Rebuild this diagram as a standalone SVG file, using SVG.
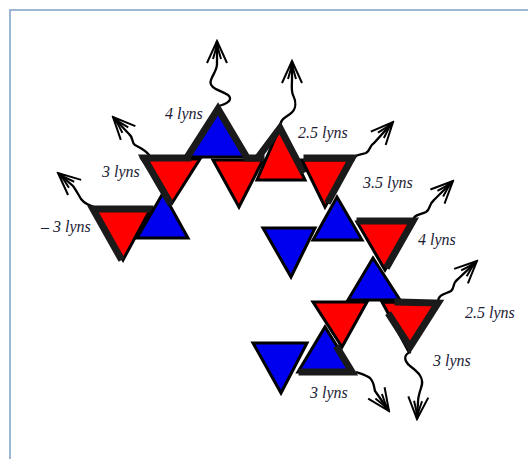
<svg xmlns="http://www.w3.org/2000/svg" width="528" height="459" viewBox="0 0 528 459">
<style>
.r{fill:#ff0000;stroke:#000;stroke-width:3;stroke-linejoin:miter}
.b{fill:#0000ee;stroke:#000;stroke-width:3;stroke-linejoin:miter}
.k{stroke:#1a1a1a;stroke-width:7;stroke-linecap:square;fill:none}
.w{fill:none;stroke:#000;stroke-width:2.3}
.t{font-family:"Liberation Serif","DejaVu Serif",serif;font-style:italic;font-size:16px;fill:#1c1c35}
</style>
<defs>
<marker id="ah" viewBox="0 0 26 24" refX="24" refY="12" markerWidth="26" markerHeight="24" markerUnits="userSpaceOnUse" orient="auto">
<path d="M2,2 L24,12 L2,22 M6,8 L20,12 L6,16" fill="none" stroke="#000" stroke-width="2"/>
</marker>
</defs>
<rect x="10" y="10" width="530" height="460" fill="#fff" stroke="#9bb7d4" stroke-width="2"/>
<g id="connectors">
<path class="w" marker-end="url(#ah)" d="M97,208 C90,206 84,203 81,199 C78,194 76,190 73,186 L58,173"/>
<path class="w" marker-end="url(#ah)" d="M151,158 C149,152 141,148 135,145 C131,142 134,138 129,134 L113,117"/>
<path class="w" marker-end="url(#ah)" d="M219,106 C226,104 234,100 228,95 C220,90 208,88 211,80 C213,74 217,70 217,64 L217,41"/>
<path class="w" marker-end="url(#ah)" d="M281,127 C279,121 284,118 290,114 C297,109 296,101 293,95 C291,90 292,84 292,80 L292,61"/>
<path class="w" marker-end="url(#ah)" d="M353,161 C354,154 361,155 366,153 C371,150 369,146 374,143 L393,122"/>
<path class="w" marker-end="url(#ah)" d="M413,222 C413,214 420,215 426,212 C431,209 428,205 434,200 L453,181"/>
<path class="w" marker-end="url(#ah)" d="M438,302 C438,294 446,294 451,291 C455,288 452,283 458,279 L477,261"/>
<path class="w" marker-end="url(#ah)" d="M411,352 C404,354 403,360 410,366 C418,372 425,378 421,388 C419,394 418,398 418,402 L417,419"/>
<path class="w" marker-end="url(#ah)" d="M356,372 C362,374 366,375 370,378 C374,382 374,387 375,391 L389,411"/>
</g>
<g id="t1"><polygon class="r" points="93,210 150,210 123,260"/><path class="k" d="M150,209 L93,209 L120,257"/></g>
<g id="t2"><polygon class="b" points="137,238 188,238 163,193"/></g>
<g id="t3"><polygon class="r" points="142,159 200,159 172,203"/><path class="k" d="M188,158 L144,158 L169,201"/></g>
<g id="t5"><polygon class="r" points="213,160 263,160 239,207"/><path class="k" d="M247,158 L261,158"/></g>
<g id="t4"><polygon class="b" points="188,157 247,157 218,107"/><path class="k" d="M188,156 L218,109 L246,156"/></g>
<g id="t6"><polygon class="r" points="257,180 305,180 280,127"/><path class="k" d="M259,156 L280,128 L302,170"/></g>
<g id="t7"><polygon class="r" points="302,160 352,160 325,207"/><path class="k" d="M307,158 L352,158 L329,200"/></g>
<g id="t9"><polygon class="b" points="263,228 315,228 291,277"/></g>
<g id="t8"><polygon class="b" points="313,240 362,240 337,197"/></g>
<g id="t10"><polygon class="r" points="357,222 413,222 385,270"/><path class="k" d="M360,221 L413,221 L388,265"/></g>
<g id="t11"><polygon class="b" points="348,300 400,300 373,258"/></g>
<g id="t12"><polygon class="r" points="313,302 367,302 342,347"/></g>
<g id="t13"><polygon class="r" points="382,302 438,303 408,350"/><path class="k" d="M398,302 L438,303 L410,347 L390,316"/></g>
<g id="t15"><polygon class="b" points="253,343 307,343 281,393"/></g>
<g id="t14"><polygon class="b" points="298,372 353,372 325,327"/><path class="k" d="M302,372 L352,372 L338,349"/></g>
<g id="labels">
<text class="t" x="41" y="232">– 3 lyns</text>
<text class="t" x="102" y="177">3 lyns</text>
<text class="t" x="165" y="119">4 lyns</text>
<text class="t" x="298" y="138">2.5 lyns</text>
<text class="t" x="363" y="188">3.5 lyns</text>
<text class="t" x="418" y="245">4 lyns</text>
<text class="t" x="465" y="318">2.5 lyns</text>
<text class="t" x="433" y="366">3 lyns</text>
<text class="t" x="310" y="398">3 lyns</text>
</g>
</svg>
